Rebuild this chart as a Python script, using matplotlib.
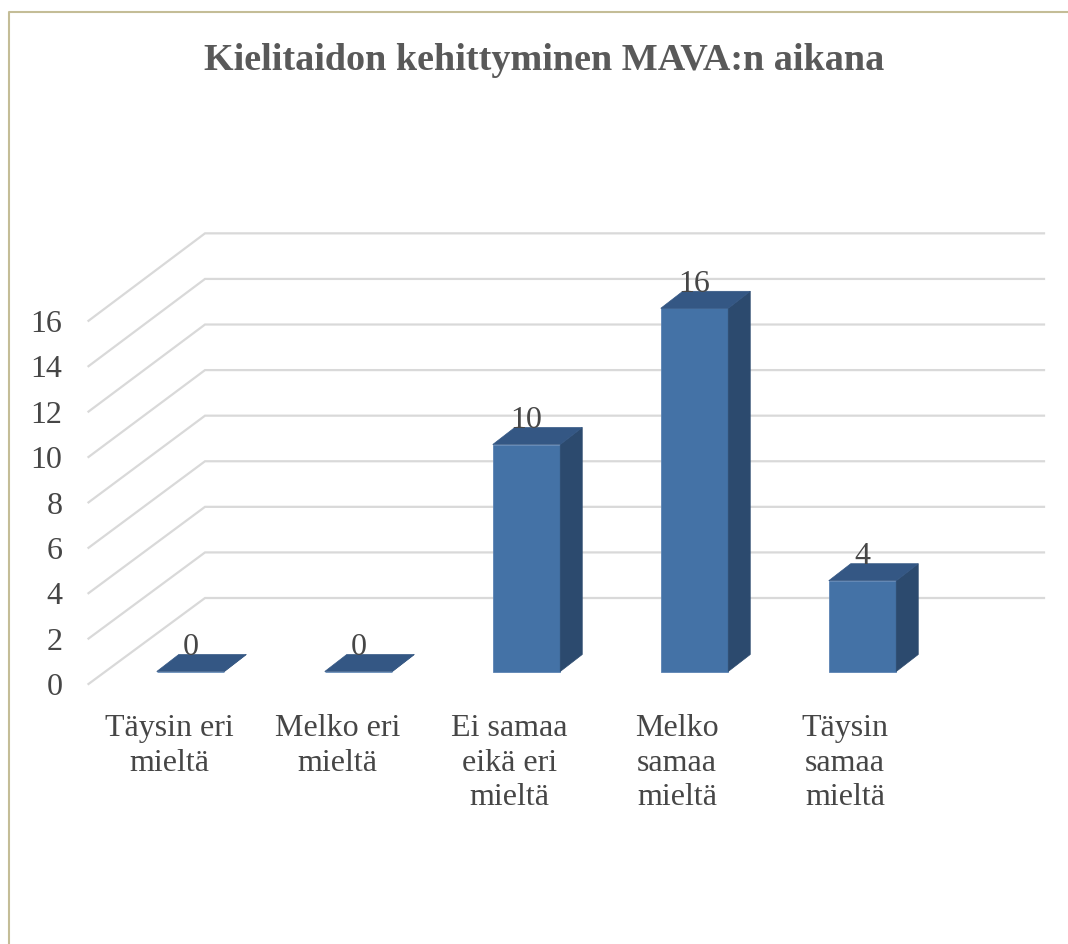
import matplotlib
matplotlib.use("Agg")
import matplotlib.pyplot as plt
from matplotlib.patches import Polygon

categories = ["Täysin eri\nmieltä", "Melko eri\nmieltä", "Ei samaa\neikä eri\nmieltä", "Melko\nsamaa\nmieltä", "Täysin\nsamaa\nmieltä"]
values = [0, 0, 10, 16, 4]
y_ticks = [0, 2, 4, 6, 8, 10, 12, 14, 16]
title = "Kielitaidon kehittyminen MAVA:n aikana"

plt.rcParams['font.family'] = ['Liberation Serif', 'DejaVu Serif']

W, H = 1068, 945
fig = plt.figure(figsize=(W / 100, H / 100), dpi=100)
ax = fig.add_axes([0, 0, 1, 1])

# one category = 168 px, one value unit = 22.7 px
# category 0 sits at x=190.5 px, value 0 at y=672.5 px
px_x, px_y = 168.0, 22.7
ax.set_xlim(-190.5 / px_x, (W - 190.5) / px_x)
ax.set_ylim((672.5 - H) / px_y, 672.5 / px_y)
ax.axis('off')

# walls: front edge offset, back edge offset from the bar plane
front_dx, front_dy = -102 / px_x, -12.5 / px_y
back_dx, back_dy = 14.5 / px_x, 73.5 / px_y
wall_right = (1044 - 190.5) / px_x
bar_w = 67.5 / px_x
depth_x, depth_y = 22 / px_x, 17 / px_y
label_dx = [-21, -21, -17, -17.5, -17.5]
text_color = '#464646'

# gridlines
for v in y_ticks:
    back_y = v * 1.004 + back_dy
    ax.plot([front_dx, back_dx, wall_right], [v + front_dy, back_y, back_y],
            color='#D9D9D9', lw=1.6, solid_joinstyle='miter', zorder=1)
    ax.text(front_dx - 26 / px_x, v + front_dy - 0.12, str(v), ha='right', va='center',
            fontsize=23, color=text_color, zorder=5)

# bars
for i, v in enumerate(values):
    x0 = i - bar_w / 2
    x1 = i + bar_w / 2
    ax.add_patch(Polygon([(x0, 0), (x1, 0), (x1, v), (x0, v)], closed=True,
                         facecolor='#4472A6', edgecolor='#5B83B3', lw=0.6, zorder=3))
    ax.add_patch(Polygon([(x1, 0), (x1 + depth_x, depth_y), (x1 + depth_x, v + depth_y), (x1, v)], closed=True,
                         facecolor='#2C4A6E', edgecolor='#2C4A6E', lw=0.5, zorder=3))
    ax.add_patch(Polygon([(x0, v), (x1, v), (x1 + depth_x, v + depth_y), (x0 + depth_x, v + depth_y)], closed=True,
                         facecolor='#345784', edgecolor='#345784', lw=0.5, zorder=3))
    ax.text(i, v + depth_y + 0.03, str(v), ha='center', va='baseline', fontsize=23, color=text_color, zorder=4)

# category labels
for i, lab in enumerate(categories):
    ax.text(i + label_dx[i] / px_x, -1.83, lab, ha='center', va='top', fontsize=23, color=text_color,
            linespacing=1.26, zorder=5)

# title and chart border (pixel positions)
fig.text(544.5 / W, 1 - 60 / H, title, ha='center', va='center', fontsize=27.45, fontweight='bold', color='#595959')
fig.add_artist(plt.Line2D([8.5 / W, 8.5 / W, 1], [0, 1 - 12.5 / H, 1 - 12.5 / H], color='#C4BD97', lw=1.5))

fig.savefig("out.png", dpi=100)
